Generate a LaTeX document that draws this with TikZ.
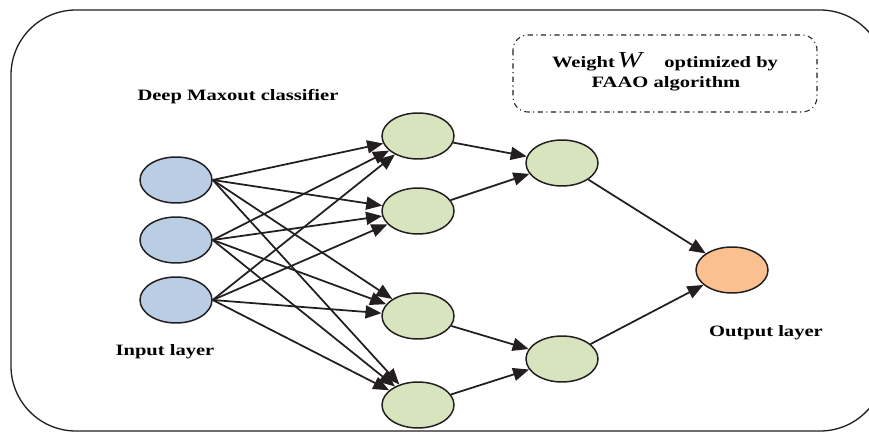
\documentclass[tikz,border=0pt]{standalone}
\usepackage{fontspec}
\setmainfont{Liberation Serif}
\newfontfamily\labelfont[FakeStretch=1.3]{Liberation Serif}
\usetikzlibrary{positioning,shapes.geometric,arrows.meta}

\definecolor{inblue}{HTML}{B9CDE5}
\definecolor{hidgreen}{HTML}{D7E4BD}
\definecolor{outorange}{HTML}{FAC090}
\definecolor{inkline}{HTML}{231F20}

\tikzset{
  neuron/.style={ellipse, draw=inkline, line width=0.85pt,
    minimum width=1.44cm, minimum height=0.92cm, inner sep=0pt},
  innode/.style={neuron, fill=inblue},
  hidnode/.style={neuron, fill=hidgreen},
  outnode/.style={neuron, fill=outorange},
  link/.style={draw=inkline, line width=1pt,
    -{Triangle[length=3.2mm,width=2.6mm]}},
  caption/.style={font=\labelfont\bfseries\fontsize{9}{11}\selectfont, inner sep=0pt}
}

\begin{document}
\begin{tikzpicture}[x=0.02cm, y=-0.02cm]
\useasboundingbox (0,0) rectangle (869,432);

% columns
\def\xa{176}
\def\xb{418}
\def\xc{562}
\def\xd{732}

% rows
\def\ya{180}
\def\yb{240}
\def\yc{300}

% frame round the whole net
\draw[inkline, line width=0.75pt, rounded corners=1.3cm] (11,10) rectangle (885,431);

% input layer
\node[innode](in1) at (\xa, \ya) {};
\node[innode](in2) at (\xa, \yb) {};
\node[innode](in3) at (\xa, \yc) {};

% first maxout layer
\node[hidnode](ha) at (\xb, 136) {};
\node[hidnode](hb) at (\xb, 211) {};
\node[hidnode](hc) at (\xb, 316) {};
\node[hidnode](hd) at (\xb, 405) {};

% second maxout layer
\node[hidnode](ga) at (\xc, 163) {};
\node[hidnode](gb) at (\xc, 359) {};

% output layer
\node[outnode](out) at (\xd, 270) {};

\node[caption](deep) at (238, 97) {Deep Maxout classifier};
\node[caption](inlab) at (165, 352) {Input layer};
\node[caption](outlab) at (766, 333) {Output layer};

\draw[inkline, line width=0.6pt, dash dot, rounded corners=0.3cm] (513,35) rectangle (817,112);
\node[caption](wt) at (665, 62) {Weight\,{\fontsize{13}{13}\selectfont\mdseries\itshape W}\hspace{1.4em}optimized by};
\node[caption](faao) at (666, 84) {FAAO algorithm};

\draw[link] (in1.east) -- (ha);
\draw[link] (in1.east) -- (hb);
\draw[link] (in1.east) -- (hc);
\draw[link] (in1.east) -- (hd);
\draw[link] (in2.east) -- (ha);
\draw[link] (in2.east) -- (hb);
\draw[link] (in2.east) -- (hc);
\draw[link] (in2.east) -- (hd);
\draw[link] (in3.east) -- (ha);
\draw[link] (in3.east) -- (hb);
\draw[link] (in3.east) -- (hc);
\draw[link] (in3.east) -- (hd);

\draw[link] (ha) -- (ga);
\draw[link] (hb) -- (ga);
\draw[link] (hc) -- (gb);
\draw[link] (hd) -- (gb);

\draw[link] (ga) -- (out);
\draw[link] (gb) -- (out);

\end{tikzpicture}
\end{document}
